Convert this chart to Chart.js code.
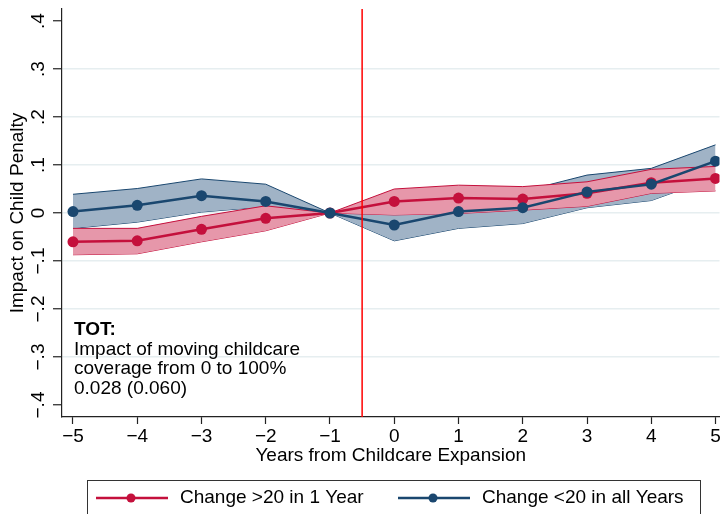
<!DOCTYPE html>
<html>
<head>
<title>Impact on Child Penalty</title>
<script src="https://cdn.jsdelivr.net/npm/chart.js"></script>
<style>
  body { margin: 0; background: #fff; }
  canvas { display: block; }
</style>
</head>
<body>
<canvas id="myChart" width="725" height="514"></canvas>
<script>
// event-study estimates
const years = [-5, -4, -3, -2, -1, 0, 1, 2, 3, 4, 5];

const bigChange = [-0.060, -0.058, -0.034, -0.011, 0, 0.024, 0.031, 0.029, 0.041, 0.063, 0.072];
const bigChangeLo = [-0.087, -0.085, -0.060, -0.037, 0, -0.004, -0.001, 0.006, 0.014, 0.041, 0.046];
const bigChangeHi = [-0.032, -0.032, -0.007, 0.015, 0, 0.050, 0.058, 0.055, 0.065, 0.091, 0.097];

const smallChange = [0.003, 0.016, 0.036, 0.024, 0, -0.025, 0.003, 0.011, 0.044, 0.060, 0.108];
const smallChangeLo = [-0.032, -0.019, 0.002, 0.013, 0, -0.058, -0.032, -0.022, 0.011, 0.026, 0.074];
const smallChangeHi = [0.039, 0.051, 0.071, 0.060, 0, 0.010, 0.038, 0.045, 0.079, 0.093, 0.142];

const xTicks = [-5, -4, -3, -2, -1, 0, 1, 2, 3, 4, 5];
const yTicks = [-0.4, -0.3, -0.2, -0.1, 0, 0.1, 0.2, 0.3, 0.4];
const eventLine = -0.5;

const labelBig = 'Change >20 in 1 Year';
const labelSmall = 'Change <20 in all Years';
const note = ['TOT:', 'Impact of moving childcare', 'coverage from 0 to 100%', '0.028 (0.060)'];

const RED = '#c4103c';
const BLUE = '#1a476f';
const RED_BAND = '#e697aa';
const BLUE_BAND = '#a0b3c6';
const FONT = "'Liberation Sans', Arial, Helvetica, sans-serif";

const pts = arr => arr.map((v, i) => ({ x: years[i], y: v }));

// stata style tick labels: .4, −.1, 0
function stataNum(v) {
    if (Math.abs(v) < 1e-9) return '0';
    let s = Math.abs(v).toFixed(1).replace(/^0/, '');
    return (v < 0 ? '\u2212' : '') + s;
}

const extras = {
    id: 'extras',
    afterDatasetsDraw(chart) {
        const { ctx, chartArea } = chart;
        const px = chart.scales.x.getPixelForValue(eventLine);
        ctx.save();
        ctx.strokeStyle = '#ff0000';
        ctx.lineWidth = 1.5;
        ctx.beginPath();
        ctx.moveTo(px, chartArea.top);
        ctx.lineTo(px, chartArea.bottom);
        ctx.stroke();
        ctx.restore();
    },
    afterDraw(chart) {
        const { ctx, chartArea } = chart;
        ctx.save();
        // TOT note
        ctx.fillStyle = '#000';
        ctx.textBaseline = 'alphabetic';
        ctx.textAlign = 'left';
        note.forEach((t, i) => {
            ctx.font = (i === 0 ? 'bold ' : '') + '19px ' + FONT;
            ctx.fillText(t, chartArea.left + 12, 335 + i * 19.5);
        });

        // legend box
        ctx.strokeStyle = '#333';
        ctx.lineWidth = 1;
        ctx.strokeRect(87.5, 480.5, 613, 40);
        const items = [
            { label: labelBig, color: RED, x0: 96 },
            { label: labelSmall, color: BLUE, x0: 398 }
        ];
        ctx.font = '19px ' + FONT;
        ctx.textBaseline = 'middle';
        items.forEach(it => {
            ctx.strokeStyle = it.color;
            ctx.fillStyle = it.color;
            ctx.lineWidth = 2.5;
            ctx.beginPath();
            ctx.moveTo(it.x0, 498);
            ctx.lineTo(it.x0 + 72, 498);
            ctx.stroke();
            ctx.beginPath();
            ctx.arc(it.x0 + 35, 498, 4.5, 0, Math.PI * 2);
            ctx.fill();
            ctx.fillStyle = '#000';
            ctx.fillText(it.label, it.x0 + 84, 498);
        });
        ctx.restore();
    }
};

const bandStyle = (color, fill) => ({
    borderColor: color,
    borderWidth: 1,
    backgroundColor: fill,
    pointRadius: 0,
    tension: 0
});

new Chart(document.getElementById('myChart'), {
    type: 'line',
    data: {
        datasets: [
            {
                label: labelSmall, data: pts(smallChange),
                borderColor: BLUE, backgroundColor: BLUE, borderWidth: 2.5,
                pointRadius: 5.5, pointBackgroundColor: BLUE, pointBorderWidth: 0, fill: false
            },
            {
                label: labelBig, data: pts(bigChange),
                borderColor: RED, backgroundColor: RED, borderWidth: 2.5,
                pointRadius: 5.5, pointBackgroundColor: RED, pointBorderWidth: 0, fill: false
            },
            Object.assign({ label: 'big hi', data: pts(bigChangeHi), fill: '+1' }, bandStyle(RED, RED_BAND)),
            Object.assign({ label: 'big lo', data: pts(bigChangeLo), fill: false }, bandStyle(RED, RED_BAND)),
            Object.assign({ label: 'small hi', data: pts(smallChangeHi), fill: '+1' }, bandStyle(BLUE, BLUE_BAND)),
            Object.assign({ label: 'small lo', data: pts(smallChangeLo), fill: false }, bandStyle(BLUE, BLUE_BAND))
        ]
    },
    options: {
        responsive: false,
        animation: false,
        layout: { padding: { top: 9, left: 0, right: 0, bottom: 41 } },
        plugins: {
            legend: { display: false },
            tooltip: { enabled: false }
        },
        scales: {
            x: {
                type: 'linear',
                min: -5.171,
                max: 5.062,
                afterBuildTicks: s => { s.ticks = xTicks.map(v => ({ value: v })); },
                afterFit: s => { s.height = 56; s.paddingLeft = 0; s.paddingRight = 0; },
                grid: { drawOnChartArea: false, tickLength: 7, tickColor: '#222', tickWidth: 1.2 },
                border: { color: '#222', width: 1.2 },
                ticks: {
                    padding: 1,
                    color: '#000',
                    maxRotation: 0,
                    font: { family: FONT, size: 19 },
                    callback: v => stataNum(v).replace('.0', '')
                },
                title: {
                    display: true,
                    text: 'Years from Childcare Expansion',
                    color: '#000',
                    font: { family: FONT, size: 19 },
                    padding: { top: 0, bottom: 6 }
                }
            },
            y: {
                min: -0.425,
                max: 0.425,
                afterBuildTicks: s => { s.ticks = yTicks.map(v => ({ value: v })); },
                afterFit: s => { s.width = 62; s.paddingTop = 0; s.paddingBottom = 0; },
                grid: {
                    color: ctx => (ctx.tick && Math.abs(ctx.tick.value) > 0.35) ? 'rgba(0,0,0,0)' : '#e6eef0',
                    lineWidth: 1.5,
                    tickLength: 9,
                    tickColor: '#222',
                    tickWidth: 1.2
                },
                border: { color: '#222', width: 1.2 },
                ticks: {
                    padding: 1,
                    color: '#000',
                    minRotation: 90,
                    maxRotation: 90,
                    crossAlign: 'center',
                    font: { family: FONT, size: 19 },
                    callback: v => stataNum(v)
                },
                title: {
                    display: true,
                    text: 'Impact on Child Penalty',
                    color: '#000',
                    font: { family: FONT, size: 19 },
                    padding: { top: 6, bottom: 0 }
                }
            }
        }
    },
    plugins: [extras]
});
</script>
</body>
</html>
